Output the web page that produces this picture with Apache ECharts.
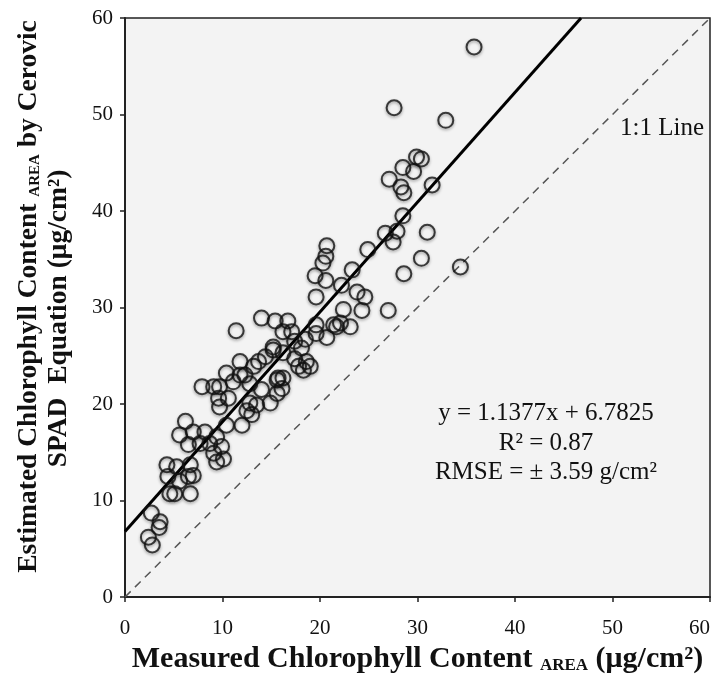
<!DOCTYPE html>
<html>
<head>
<meta charset="utf-8">
<script src="https://cdn.jsdelivr.net/npm/echarts@6/dist/echarts.min.js"></script>
<style>html,body{margin:0;padding:0;background:#fff;}#c{width:715px;height:683px;}</style>
</head>
<body>
<div id="c"></div>
<script>
var measured = [35.8,27.6,32.9,29.9,30.4,28.5,29.6,27.1,28.3,28.6,31.5,28.5,26.7,27.9,27.5,31.0,24.9,30.4,34.4,28.6,23.3,22.2,23.8,24.6,22.4,24.3,27.0,23.1,22.1,20.7,20.6,20.3,19.5,20.6,19.6,14.0,15.4,16.7,16.2,17.1,19.6,21.4,21.7,20.7,19.6,18.5,17.4,18.1,15.2,14.4,13.7,17.4,18.6,19.0,18.3,17.8,15.7,16.2,16.1,13.2,12.3,11.8,12.8,14.0,10.4,11.8,11.1,7.9,9.1,9.7,9.6,10.6,9.7,12.8,14.9,13.0,12.0,10.4,6.2,15.6,15.6,15.2,16.2,5.6,7.0,8.2,9.4,7.7,8.7,6.5,9.9,9.1,10.1,9.4,4.3,5.3,6.7,7.0,6.5,4.4,5.6,4.6,5.1,6.7,2.7,3.6,3.5,2.4,2.8,11.4,13.5,12.5];
var estimated = [57.0,50.7,49.4,45.6,45.4,44.5,44.1,43.3,42.5,41.9,42.7,39.5,37.7,37.9,36.8,37.8,36.0,35.1,34.2,33.5,33.9,32.3,31.6,31.1,29.8,29.7,29.7,28.0,28.4,36.4,35.3,34.6,33.3,32.8,31.1,28.9,28.6,28.6,27.5,27.5,28.2,28.2,28.0,26.9,27.3,26.7,26.5,25.8,25.6,24.9,24.4,24.7,24.4,23.9,23.5,23.9,22.7,22.7,21.6,23.9,23.0,24.4,22.1,21.5,23.2,23.0,22.3,21.8,21.8,21.8,20.6,20.6,19.7,20.1,20.1,18.9,17.8,17.8,18.2,22.5,21.1,25.9,25.3,16.8,17.1,17.1,16.6,15.9,15.9,15.8,15.6,14.9,14.3,14.0,13.7,13.5,13.7,12.6,12.5,12.5,12.0,10.7,10.7,10.7,8.7,7.8,7.2,6.2,5.4,27.6,19.9,19.3];
var fitSlope = 1.1377;
var fitIntercept = 6.7825;
var axisTicks = [0,10,20,30,40,50,60];
var eqLines = ['y = 1.1377x + 6.7825', 'R\u00b2 = 0.87', 'RMSE = \u00b1 3.59 g/cm\u00b2'];
var lineLabel = '1:1 Line';

var pts = measured.map(function(x,i){return [x, estimated[i]];});
var fitEnd = (axisTicks[axisTicks.length-1] - fitIntercept) / fitSlope;
var fitData = [[0, fitIntercept], [fitEnd, fitSlope*fitEnd + fitIntercept]];
var oneData = [[axisTicks[0], axisTicks[0]], [axisTicks[axisTicks.length-1], axisTicks[axisTicks.length-1]]];

var serif = 'Liberation Serif';
var chart = echarts.init(document.getElementById('c'));
chart.setOption({
  animation: false,
  backgroundColor: '#ffffff',
  grid: {left:125, right:5, top:18, bottom:86, outerBoundsMode:'none', containLabel:false, show:true, backgroundColor:'#f3f3f3', borderColor:'#222', borderWidth:1.5},
  xAxis: {
    type:'value', min:0, max:60, interval:10,
    axisLine:{show:true, lineStyle:{color:'#222', width:2}},
    axisTick:{show:true, length:5, lineStyle:{color:'#222', width:1.5}},
    splitLine:{show:false},
    axisLabel:{color:'#111', fontFamily:serif, fontSize:21, margin:21, alignMaxLabel:'right'},
    name:'{b|Measured Chlorophyll Content }{s|AREA}{b| (\u03bcg/cm\u00b2)}',
    nameLocation:'middle', nameGap:47,
    nameTextStyle:{rich:{
      b:{fontFamily:serif, fontWeight:'bold', fontSize:30, color:'#111', lineHeight:30, verticalAlign:'bottom'},
      s:{fontFamily:serif, fontWeight:'bold', fontSize:17, color:'#111', lineHeight:10, verticalAlign:'bottom'}
    }}
  },
  yAxis: {
    type:'value', min:0, max:60, interval:10,
    axisLine:{show:true, lineStyle:{color:'#222', width:2}},
    axisTick:{show:true, length:5, lineStyle:{color:'#222', width:1.5}},
    splitLine:{show:false},
    axisLabel:{color:'#111', fontFamily:serif, fontSize:21, margin:12},
    name:'{b|Estimated Chlorophyll Content }{s|AREA}{b| by Cerovic}\n{b|SPAD  Equation (\u03bcg/cm\u00b2)}{g| }',
    nameLocation:'middle', nameGap:52,
    nameTextStyle:{align:'center', padding:[0,0,0,22], rich:{
      b:{fontFamily:serif, fontWeight:'bold', fontSize:27.5, color:'#111', lineHeight:30, verticalAlign:'bottom'},
      s:{fontFamily:serif, fontWeight:'bold', fontSize:15, color:'#111', lineHeight:10, verticalAlign:'bottom'},
      g:{fontSize:12, width:44, lineHeight:30}
    }}
  },
  series: [
    {type:'line', data:oneData, symbol:'none', silent:true, lineStyle:{color:'#555', width:1.5, type:[8,6]}, z:2},
    {type:'line', data:fitData, symbol:'none', silent:true, lineStyle:{color:'#000', width:3}, z:3},
    {type:'scatter', data:pts, symbol:'circle', symbolSize:15,
     itemStyle:{color:'rgba(0,0,0,0)', borderColor:'#111', borderWidth:2, shadowBlur:3, shadowColor:'rgba(0,0,0,0.45)', shadowOffsetY:1.5}, z:4}
  ],
  graphic: [
    {type:'text', x:662, y:128, style:{text:lineLabel, fontFamily:serif, fontSize:25, fill:'#111', align:'center', verticalAlign:'middle'}},
    {type:'text', x:546, y:413, style:{text:eqLines[0], fontFamily:serif, fontSize:25, fill:'#111', align:'center', verticalAlign:'middle'}},
    {type:'text', x:546, y:443, style:{text:eqLines[1], fontFamily:serif, fontSize:25, fill:'#111', align:'center', verticalAlign:'middle'}},
    {type:'text', x:546, y:472, style:{text:eqLines[2], fontFamily:serif, fontSize:25, fill:'#111', align:'center', verticalAlign:'middle'}}
  ]
});
</script>
</body>
</html>
